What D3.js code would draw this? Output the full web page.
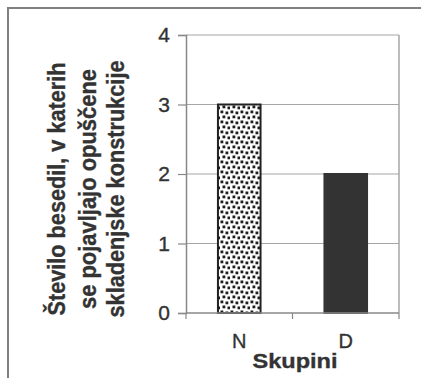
<!DOCTYPE html>
<html lang="sl">
<head>
    <meta charset="UTF-8">
    <title>Skupini</title>
    <script src="https://d3js.org/d3.v7.min.js"></script>
</head>
<style>
    body { margin: 0; background: #fff; }
    text { font-family: "Liberation Sans", Arial, sans-serif; fill: #333; stroke: #333; stroke-width: 0.35px; }
</style>
<body>
<script>

    // data
    var categories = ["N", "D"];
    var values = [3, 2];
    var yTicks = [0, 1, 2, 3, 4];
    var yTitleLines = ["Število besedil, v katerih", "se pojavljajo opuščene", "skladenjske konstrukcije"];
    var xTitle = "Skupini";

    var width = 421,
        height = 378;

    var plot = {left: 186, right: 399, top: 35, bottom: 313};

    var svg = d3.select('body').append('svg')
        .attr('width', width)
        .attr('height', height);

    // pattern for the N bar (confetti dots)
    var defs = svg.append('defs');
    var pat = defs.append('pattern')
        .attr('id', 'dots')
        .attr('patternUnits', 'userSpaceOnUse')
        .attr('width', 10)
        .attr('height', 10);
    pat.append('rect').attr('width', 10).attr('height', 10).attr('fill', '#fff');
    [[0.5, 0.5], [5.5, 1.5], [2.5, 5.5], [7.5, 6.5]].forEach(function (p) {
        pat.append('rect')
            .attr('x', p[0]).attr('y', p[1])
            .attr('width', 2.8).attr('height', 2.8)
            .attr('fill', '#1e1e1e');
    });

    // outer frame
    svg.append('path')
        .attr('d', 'M8,' + height + 'V8H' + width)
        .attr('fill', 'none')
        .attr('stroke', '#808080')
        .attr('stroke-width', 2);

    var x = d3.scaleBand()
        .domain(categories)
        .range([plot.left, plot.right])
        .paddingInner(0.6)
        .paddingOuter(0.3);

    var y = d3.scaleLinear()
        .domain([0, 4])
        .range([plot.bottom, plot.top]);

    // gridlines
    svg.append('g')
        .selectAll('line')
        .data(yTicks.slice(1))
        .enter()
        .append('line')
        .attr('x1', plot.left)
        .attr('x2', plot.right)
        .attr('y1', function (d) { return y(d); })
        .attr('y2', function (d) { return y(d); })
        .attr('stroke', '#a6a6a6')
        .attr('stroke-width', 1.2);

    // right border of plot area
    svg.append('line')
        .attr('x1', plot.right).attr('x2', plot.right)
        .attr('y1', plot.top).attr('y2', plot.bottom)
        .attr('stroke', '#a6a6a6')
        .attr('stroke-width', 1.5);

    // bars
    svg.append('g')
        .selectAll('rect')
        .data(values)
        .enter()
        .append('rect')
        .attr('x', function (d, i) { return x(categories[i]); })
        .attr('y', function (d) { return y(d); })
        .attr('width', x.bandwidth())
        .attr('height', function (d) { return y(0) - y(d); })
        .attr('fill', function (d, i) { return i == 0 ? 'url(#dots)' : '#333'; })
        .attr('stroke', function (d, i) { return i == 0 ? '#222' : '#333'; })
        .attr('stroke-width', 2);

    // y axis
    var yAxis = svg.append('g')
        .attr('transform', 'translate(' + plot.left + ',0)')
        .call(d3.axisLeft(y).tickValues(yTicks).tickFormat(d3.format('d')).tickSize(8).tickPadding(8));
    yAxis.select('.domain').attr('stroke', '#888').attr('stroke-width', 1.5);
    yAxis.selectAll('.tick line').attr('stroke', '#888').attr('stroke-width', 1.2);
    yAxis.selectAll('.tick text')
        .attr('fill', '#333')
        .style('font-family', '"Liberation Sans", Arial, sans-serif')
        .style('font-size', '21px');

    // x axis
    svg.append('line')
        .attr('x1', plot.left).attr('x2', plot.right)
        .attr('y1', plot.bottom).attr('y2', plot.bottom)
        .attr('stroke', '#888')
        .attr('stroke-width', 1.5);

    var step = (plot.right - plot.left) / categories.length;
    svg.append('g')
        .selectAll('line')
        .data(d3.range(categories.length + 1))
        .enter()
        .append('line')
        .attr('x1', function (i) { return plot.left + i * step; })
        .attr('x2', function (i) { return plot.left + i * step; })
        .attr('y1', plot.bottom)
        .attr('y2', plot.bottom + 6)
        .attr('stroke', '#888')
        .attr('stroke-width', 1.2);

    svg.append('g')
        .selectAll('text')
        .data(categories)
        .enter()
        .append('text')
        .attr('x', function (d) { return x(d) + x.bandwidth() / 2; })
        .attr('y', 348)
        .attr('text-anchor', 'middle')
        .style('font-size', '20px')
        .text(function (d) { return d; });

    svg.append('text')
        .attr('x', 295)
        .attr('y', 368)
        .attr('text-anchor', 'middle')
        .style('font-size', '21px')
        .style('font-weight', 'bold')
        .attr('textLength', 85)
        .attr('lengthAdjust', 'spacingAndGlyphs')
        .text(xTitle);

    // y title, three lines
    var lineX = [65, 96, 124];
    var lineLen = [253, 240, 257];
    svg.append('g')
        .selectAll('text')
        .data(yTitleLines)
        .enter()
        .append('text')
        .attr('transform', function (d, i) { return 'translate(' + lineX[i] + ',189) rotate(-90)'; })
        .attr('text-anchor', 'middle')
        .attr('textLength', function (d, i) { return lineLen[i]; })
        .attr('lengthAdjust', 'spacingAndGlyphs')
        .style('font-size', '23px')
        .style('font-weight', 'bold')
        .text(function (d) { return d; });

</script>
</body>
</html>
